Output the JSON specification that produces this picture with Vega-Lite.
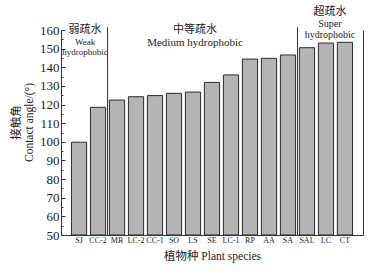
{
  "$schema": "https://vega.github.io/schema/vega-lite/v6.json",
  "width": 302,
  "height": 205,
  "autosize": {"type": "none"},
  "padding": {"left": 61, "top": 30, "right": 12, "bottom": 40},
  "background": "white",
  "config": {
    "view": {"stroke": null},
    "axis": {"domainColor": "#333", "tickColor": "#333", "labelColor": "#222", "titleColor": "#222", "grid": false, "labelFont": "Liberation Serif", "titleFont": "Liberation Serif, Noto Sans CJK SC", "titleFontWeight": "normal"}
  },
  "encoding": {
    "x": {
      "field": "sp", "type": "nominal", "sort": null,
      "scale": {"domain": ["SJ", "CC-2", "MR", "LC-2", "CC-1", "SO", "LS", "SE", "LC-1", "RP", "AA", "SA", "SAL", "LC", "CT"], "paddingInner": 0.2, "paddingOuter": 0.55},
      "axis": {"title": "植物种 Plant species", "labelAngle": 0, "labelFontSize": 8, "labelOverlap": false, "tickSize": -3, "labelPadding": 4, "titleFontSize": 11.5, "titlePadding": 6}
    }
  },
  "layer": [
    {
      "data": {"values": [
        {"sp": "SJ", "angle": 99.8},
        {"sp": "CC-2", "angle": 118.5},
        {"sp": "MR", "angle": 122.4},
        {"sp": "LC-2", "angle": 124.2},
        {"sp": "CC-1", "angle": 124.8},
        {"sp": "SO", "angle": 126.0},
        {"sp": "LS", "angle": 126.7},
        {"sp": "SE", "angle": 131.9},
        {"sp": "LC-1", "angle": 135.9},
        {"sp": "RP", "angle": 144.4},
        {"sp": "AA", "angle": 144.8},
        {"sp": "SA", "angle": 146.6},
        {"sp": "SAL", "angle": 150.5},
        {"sp": "LC", "angle": 153.0},
        {"sp": "CT", "angle": 153.4}
      ]},
      "mark": {"type": "bar", "fill": "#b4b4b4", "stroke": "#2b2b2b", "strokeWidth": 1},
      "encoding": {
        "y": {
          "field": "angle", "type": "quantitative",
          "scale": {"domain": [50, 160], "nice": false, "zero": false},
          "axis": {
            "title": ["接触角", "Contact angle/(°)"],
            "titleFontSize": 11.5,
            "titleY": 92,
            "titlePadding": 5,
            "values": [50, 55, 60, 65, 70, 75, 80, 85, 90, 95, 100, 105, 110, 115, 120, 125, 130, 135, 140, 145, 150, 155, 160],
            "labelExpr": "datum.value % 10 === 0 ? datum.label : ''",
            "labelFontSize": 13,
            "labelPadding": 6,
            "tickSize": {"condition": {"test": "datum.value % 10 === 0", "value": -4}, "value": -2}
          }
        },
        "y2": {"datum": 50}
      }
    },
    {
      "data": {"values": [{"sp": "CC-2"}, {"sp": "SA"}]},
      "mark": {"type": "rule", "color": "#333", "strokeWidth": 1, "xOffset": 9.5},
      "encoding": {
        "y": {"datum": 50, "type": "quantitative", "axis": {"orient": "right", "labels": false, "ticks": false, "title": null, "domainColor": "#333"}},
        "y2": {"datum": 161.5}
      }
    },
    {
      "data": {"values": [
        {"sp": "SJ", "yv": 160, "text": "弱疏水", "lang": "cn"},
        {"sp": "SJ", "yv": 153.6, "text": "Weak", "lang": "en"},
        {"sp": "SJ", "yv": 148.2, "text": "hydrophobic", "lang": "en"}
      ]},
      "mark": {"type": "text", "font": "Liberation Serif, Noto Sans CJK SC", "color": "#222", "baseline": "middle", "xOffset": 6},
      "encoding": {
        "y": {"field": "yv", "type": "quantitative", "axis": null},
        "text": {"field": "text"},
        "size": {"condition": {"test": "datum.lang === 'cn'", "value": 11}, "value": 9}
      }
    },
    {
      "data": {"values": [
        {"sp": "LS", "yv": 160, "text": "中等疏水", "lang": "cn"},
        {"sp": "LS", "yv": 153, "text": "Medium hydrophobic", "lang": "en"}
      ]},
      "mark": {"type": "text", "font": "Liberation Serif, Noto Sans CJK SC", "color": "#222", "baseline": "middle", "xOffset": 2},
      "encoding": {
        "y": {"field": "yv", "type": "quantitative", "axis": null},
        "text": {"field": "text"},
        "size": {"condition": {"test": "datum.lang === 'cn'", "value": 11}, "value": 11}
      }
    },
    {
      "data": {"values": [
        {"sp": "LC", "yv": 169.7, "text": "超疏水", "lang": "cn"},
        {"sp": "LC", "yv": 163.3, "text": "Super", "lang": "en"},
        {"sp": "LC", "yv": 157.4, "text": "hydrophobic", "lang": "en"}
      ]},
      "mark": {"type": "text", "font": "Liberation Serif, Noto Sans CJK SC", "color": "#222", "baseline": "middle", "xOffset": 4},
      "encoding": {
        "y": {"field": "yv", "type": "quantitative", "axis": null},
        "text": {"field": "text"},
        "size": {"condition": {"test": "datum.lang === 'cn'", "value": 11}, "value": 10}
      }
    }
  ],
  "resolve": {"axis": {"y": "independent"}}
}
